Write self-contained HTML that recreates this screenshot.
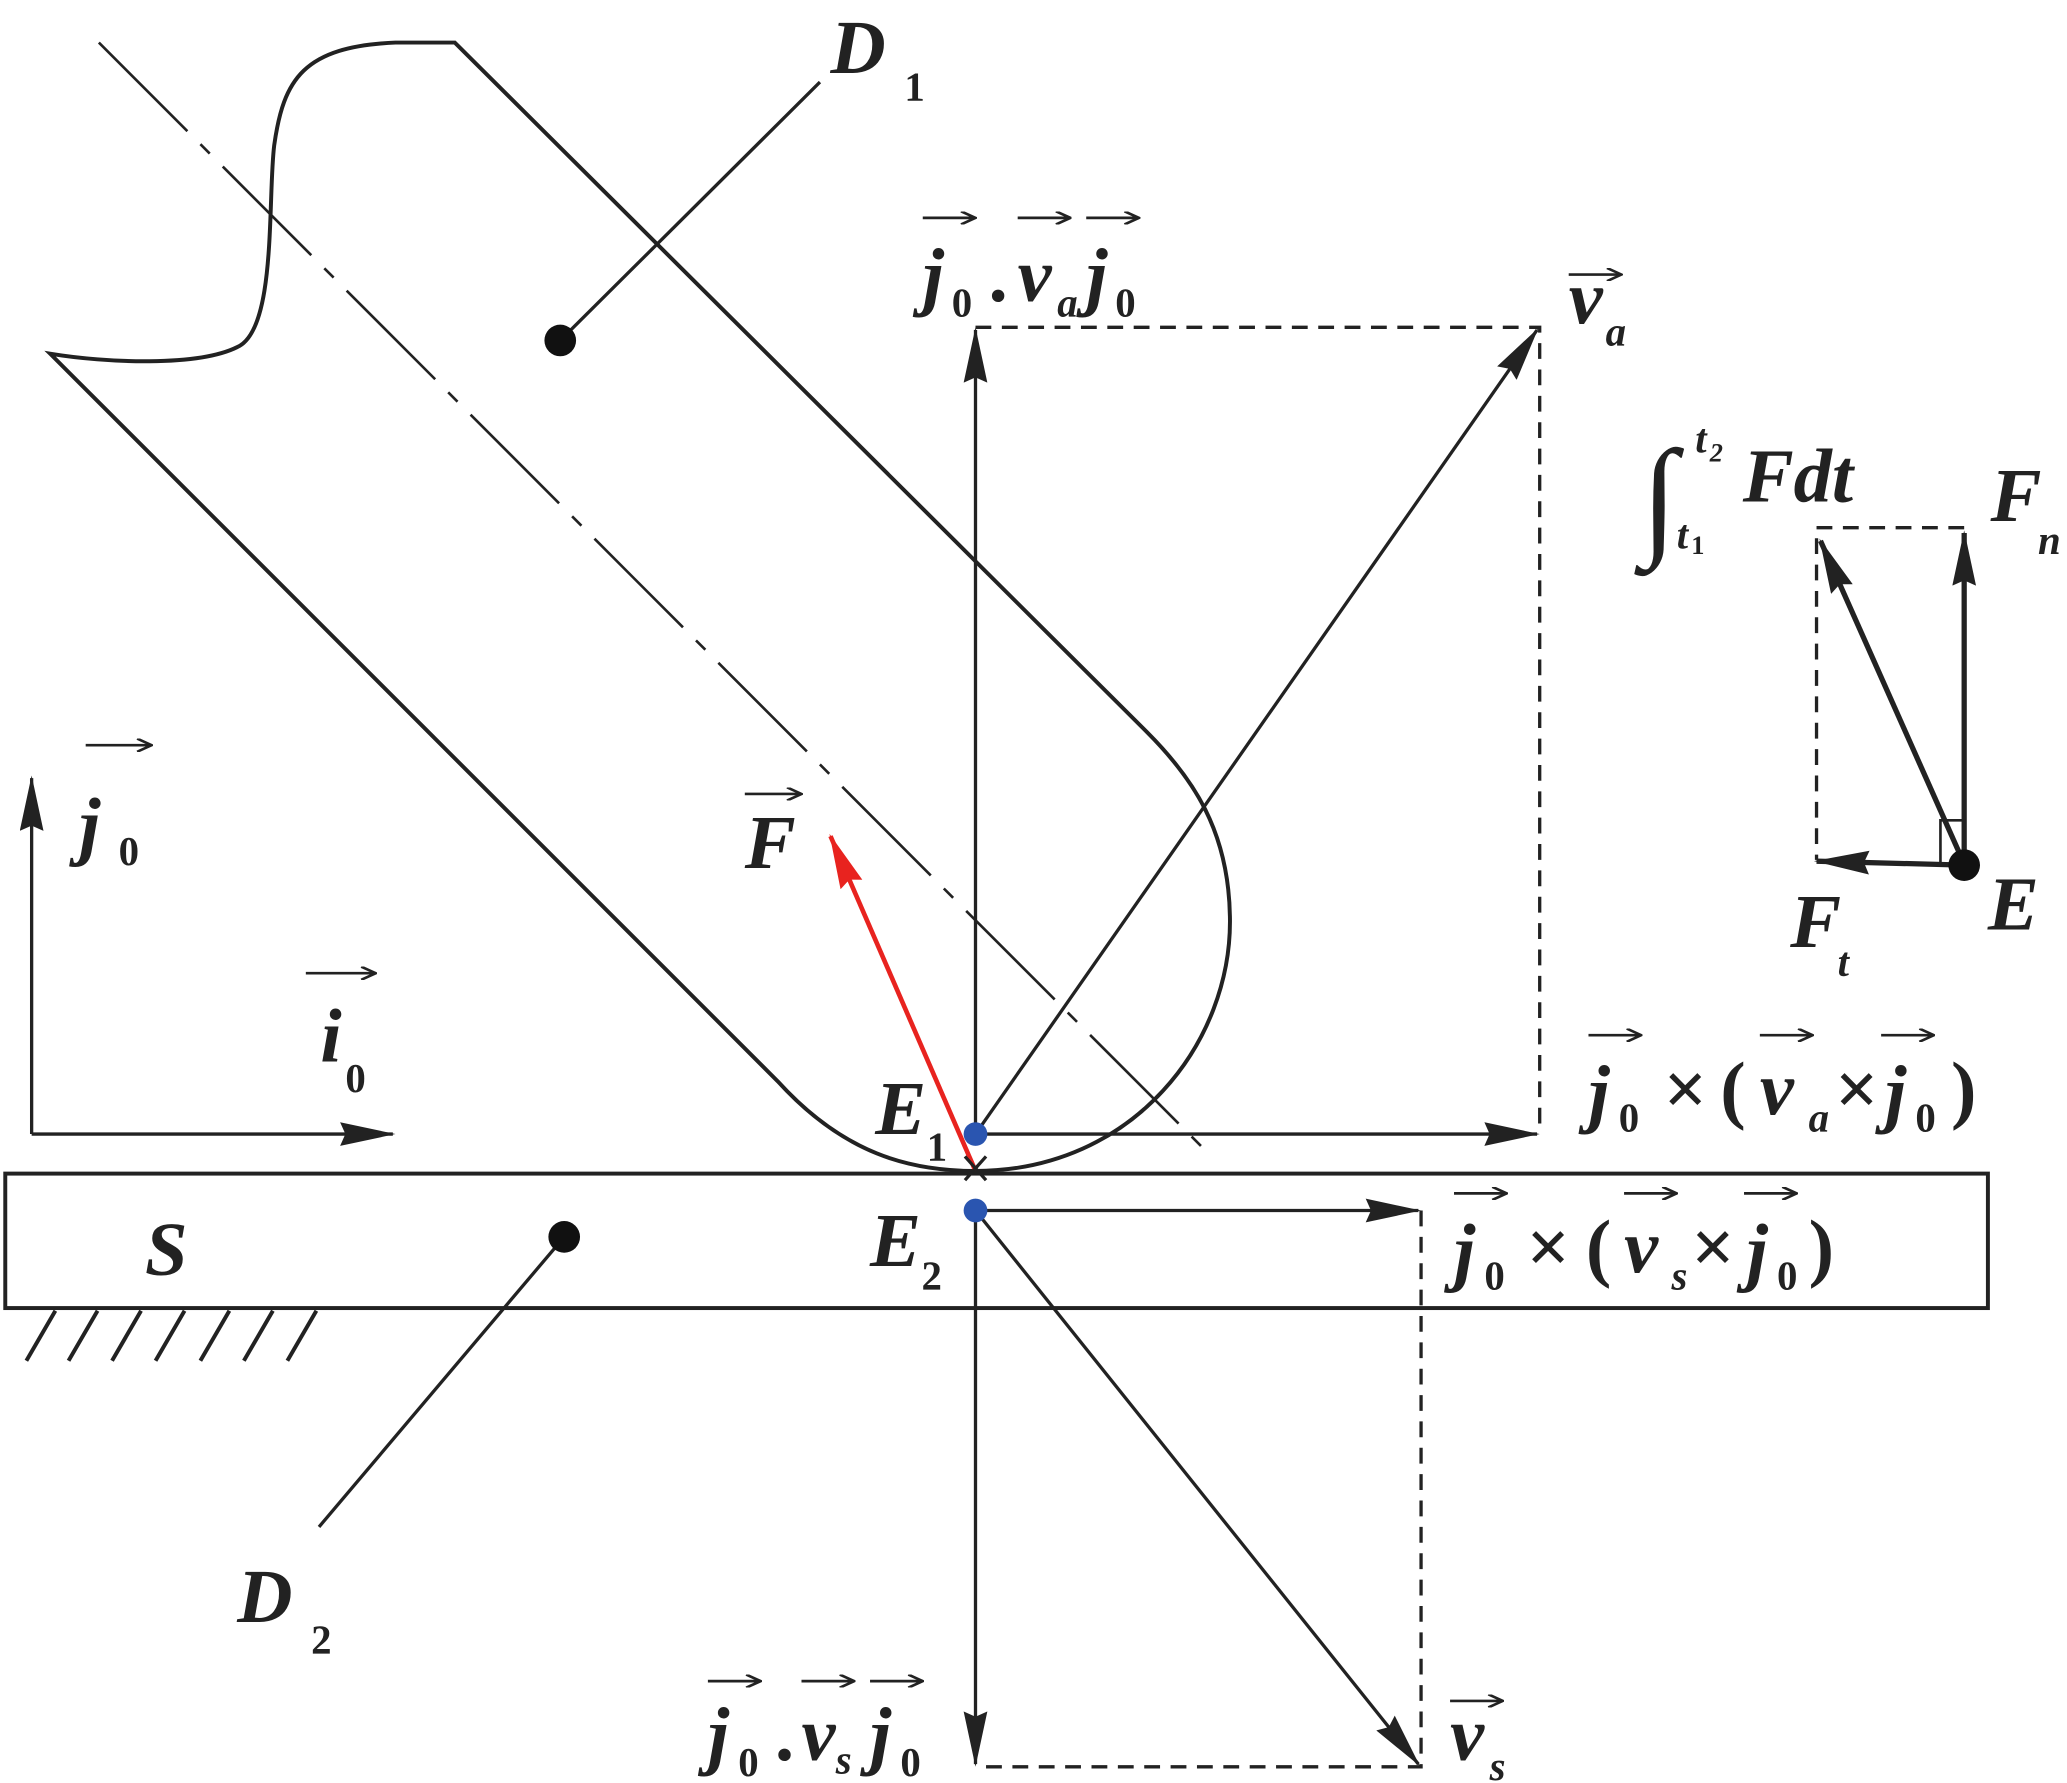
<!DOCTYPE html>
<html><head><meta charset="utf-8"><style>
html,body{margin:0;padding:0;background:#fff;}
svg{display:block;}
text{font-family:"Liberation Serif",serif;font-weight:bold;font-style:italic;fill:#222;}
.s{font-size:31px;}
.m{font-size:58px;}
.n{font-style:normal;}
</style></head><body>
<svg width="2067" height="1783" viewBox="0 0 1568 1352" xmlns="http://www.w3.org/2000/svg">
<defs>
<marker id="A" markerWidth="42" markerHeight="18" refX="40" refY="9" orient="auto" markerUnits="userSpaceOnUse" viewBox="0 0 42 18"><path d="M0,0 L42,9 L0,18 L4,9 Z" fill="#222"/></marker>
<marker id="R" markerWidth="42" markerHeight="18" refX="40" refY="9" orient="auto" markerUnits="userSpaceOnUse" viewBox="0 0 42 18"><path d="M0,0 L42,9 L0,18 L4,9 Z" fill="#e8231f"/></marker>
<marker id="V" markerWidth="14" markerHeight="10" refX="13" refY="5" orient="auto" markerUnits="userSpaceOnUse" viewBox="0 0 14 10"><path d="M2,0 L13,5 L2,10" fill="none" stroke="#222" stroke-width="2"/></marker>
</defs>
<g fill="none" stroke="#222" stroke-width="3">
<path d="M38,268 L590,820 C640,875 690,888 740,888 C860,888 935,790 933,695 C932,630 905,590 870,555 L345,32 L300,32 C230,35 215,60 208,110 C203,150 210,250 180,263 C150,278 80,275 38,268 Z"/>
<line x1="75" y1="32" x2="920" y2="878" stroke-width="2" stroke-dasharray="95,14,10,14"/>
<rect x="4" y="890" width="1504" height="102"/>
</g>
<g stroke="#222" stroke-width="3">
<line x1="20" y1="1032" x2="42" y2="994"/><line x1="52" y1="1032" x2="74" y2="994"/><line x1="85" y1="1032" x2="107" y2="994"/><line x1="118" y1="1032" x2="140" y2="994"/><line x1="152" y1="1032" x2="174" y2="994"/><line x1="185" y1="1032" x2="207" y2="994"/><line x1="218" y1="1032" x2="240" y2="994"/>
</g>
<g stroke="#222" stroke-width="2.5" fill="none">
<line x1="425" y1="258" x2="622" y2="62"/>
<line x1="428" y1="938" x2="242" y2="1158"/>
<line x1="740" y1="860" x2="740" y2="250" marker-end="url(#A)"/>
<line x1="740" y1="918" x2="740" y2="1338" marker-end="url(#A)"/>
<line x1="740" y1="860" x2="1166" y2="860" marker-end="url(#A)"/>
<line x1="740" y1="860" x2="1166" y2="250" marker-end="url(#A)"/>
<line x1="740" y1="918" x2="1076" y2="918" marker-end="url(#A)"/>
<line x1="740" y1="918" x2="1076" y2="1338" marker-end="url(#A)"/>
<line x1="24" y1="860" x2="24" y2="590" marker-end="url(#A)"/>
<line x1="24" y1="860" x2="298" y2="860" marker-end="url(#A)"/>
<g stroke-dasharray="12,8">
<polyline points="740,248 1168,248 1168,860"/>
<polyline points="1078,918 1078,1340 740,1340"/>
<polyline points="1490,400 1378,400 1378,652"/>
</g>
<line x1="740" y1="888" x2="630" y2="634" stroke="#e8231f" stroke-width="3.5" marker-end="url(#R)"/>
<line x1="732" y1="877" x2="748" y2="895"/><line x1="748" y1="877" x2="732" y2="895"/>
<g stroke-width="4">
<line x1="1490" y1="655" x2="1490" y2="404" marker-end="url(#A)"/>
<line x1="1490" y1="655" x2="1381" y2="410" marker-end="url(#A)"/>
<line x1="1490" y1="656" x2="1378" y2="653" marker-end="url(#A)"/>
</g>
<polyline points="1472,655 1472,622 1490,622" stroke-width="2"/>
</g>
<circle cx="425" cy="258" r="12" fill="#111"/>
<circle cx="428" cy="938" r="12" fill="#111"/>
<circle cx="1490" cy="656" r="12" fill="#111"/>
<circle cx="740" cy="860" r="9" fill="#2a55b0"/>
<circle cx="740" cy="918" r="9" fill="#2a55b0"/>
<g stroke="#222" stroke-width="2" marker-end="url(#V)">
<line x1="700" y1="165" x2="740" y2="165"/><line x1="772" y1="165" x2="812" y2="165"/><line x1="824" y1="165" x2="864" y2="165"/>
<line x1="1190" y1="208" x2="1230" y2="208"/>
<line x1="565" y1="602" x2="608" y2="602"/>
<line x1="65" y1="565" x2="115" y2="565"/>
<line x1="232" y1="738" x2="285" y2="738"/>
<line x1="1205" y1="785" x2="1245" y2="785"/><line x1="1335" y1="785" x2="1375" y2="785"/><line x1="1427" y1="785" x2="1467" y2="785"/>
<line x1="1103" y1="905" x2="1143" y2="905"/><line x1="1232" y1="905" x2="1272" y2="905"/><line x1="1323" y1="905" x2="1363" y2="905"/>
<line x1="537" y1="1275" x2="577" y2="1275"/><line x1="608" y1="1275" x2="648" y2="1275"/><line x1="660" y1="1275" x2="700" y2="1275"/>
<line x1="1100" y1="1290" x2="1140" y2="1290"/>
</g>
<text x="630" y="55" class="m" font-size="60">D</text><text x="686" y="76" class="s n" font-size="38">1</text>
<text x="180" y="1230" class="m" font-size="60">D</text><text x="236" y="1254" class="s n" font-size="38">2</text>
<text x="110" y="967" class="m" font-size="62">S</text>
<text x="700" y="228" class="m">j</text><text x="722" y="240" class="s n">0</text><text x="752" y="228" class="m">.</text><text x="772" y="228" class="m">v</text><text x="802" y="240" class="s">a</text><text x="824" y="228" class="m">j</text><text x="846" y="240" class="s n">0</text>
<text x="1190" y="245" class="m">v</text><text x="1218" y="262" class="s">a</text>
<text x="1245" y="410" font-size="100" style="font-style:normal;font-weight:normal">∫</text><text x="1286" y="343" class="s">t</text><text x="1297" y="350" font-size="20">2</text><text x="1272" y="416" class="s">t</text><text x="1283" y="420" font-size="20" class="n">1</text>
<text x="1322" y="380" class="m" font-size="58">Fdt</text>
<text x="1510" y="395" class="m">F</text><text x="1546" y="420" class="s">n</text>
<text x="1508" y="705" class="m">E</text>
<text x="1358" y="718" class="m">F</text><text x="1394" y="740" class="s">t</text>
<text x="565" y="658" class="m">F</text>
<text x="60" y="645" class="m">j</text><text x="90" y="656" class="s n">0</text>
<text x="243" y="805" class="m">i</text><text x="262" y="828" class="s n">0</text>
<text x="664" y="860" class="m">E</text><text x="703" y="880" class="s n">1</text>
<text x="660" y="960" class="m">E</text><text x="699" y="978" class="s n">2</text>
<text x="1205" y="848" class="m">j</text><text x="1228" y="858" class="s n">0</text><text x="1262" y="845" class="m n">×</text><text x="1305" y="845" class="m n">(</text><text x="1335" y="845" class="m">v</text><text x="1372" y="858" class="s">a</text><text x="1392" y="845" class="m n">×</text><text x="1430" y="848" class="m">j</text><text x="1453" y="858" class="s n">0</text><text x="1480" y="845" class="m n">)</text>
<text x="1103" y="968" class="m">j</text><text x="1126" y="978" class="s n">0</text><text x="1158" y="965" class="m n">×</text><text x="1203" y="965" class="m n">(</text><text x="1232" y="965" class="m">v</text><text x="1268" y="978" class="s">s</text><text x="1283" y="965" class="m n">×</text><text x="1325" y="968" class="m">j</text><text x="1348" y="978" class="s n">0</text><text x="1372" y="965" class="m n">)</text>
<text x="537" y="1335" class="m">j</text><text x="560" y="1347" class="s n">0</text><text x="590" y="1335" class="m">.</text><text x="608" y="1335" class="m">v</text><text x="634" y="1345" class="s">s</text><text x="660" y="1335" class="m">j</text><text x="683" y="1347" class="s n">0</text>
<text x="1100" y="1335" class="m">v</text><text x="1130" y="1350" class="s">s</text>
</svg>
</body></html>
